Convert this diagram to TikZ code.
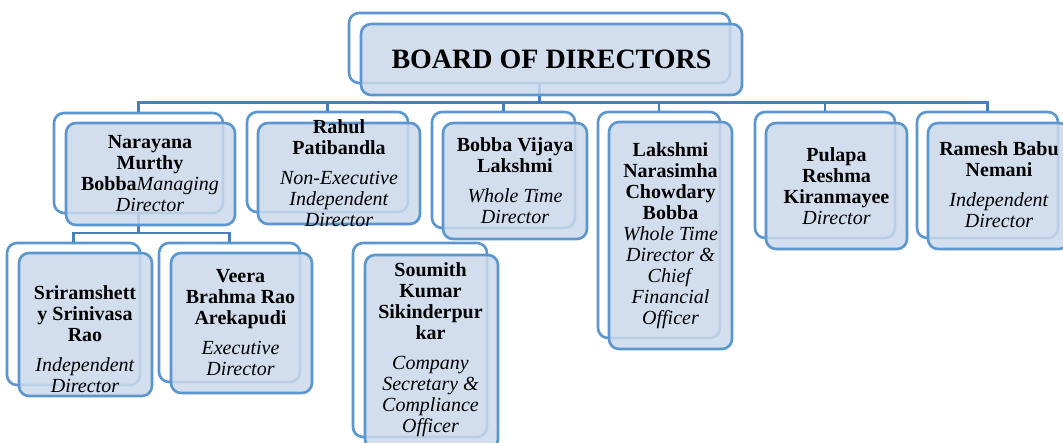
\documentclass[tikz,border=0pt]{standalone}
\usepackage{fontspec}
\setmainfont{Liberation Serif}
\usetikzlibrary{positioning,calc}
\definecolor{boxline}{RGB}{91,150,207}
\definecolor{boxfill}{RGB}{203,217,235}
\definecolor{linkline}{RGB}{74,126,187}

\begin{document}
\begin{tikzpicture}[
    x=1pt, y=-1pt,
    every node/.style={
        font=\fontsize{20}{21}\selectfont,
    },
    backbox/.style={draw=boxline, line width=2.6pt, rounded corners=10pt, fill=white, inner sep=0pt},
    frontbox/.style={draw=boxline, line width=2.6pt, rounded corners=10pt, fill=boxfill, fill opacity=0.85, inner sep=0pt},
    member/.style={align=center, inner sep=0pt},
    conn/.style={draw=linkline, line width=2.3pt},
]
    \useasboundingbox (0,0) rectangle (1063,443);
    % back boxes
    \node[backbox, minimum width=381pt, minimum height=70pt] (board-b) at (539.5,48) {};
    \node[backbox, minimum width=169pt, minimum height=100pt] (nara-b) at (138.5,163) {};
    \node[backbox, minimum width=161pt, minimum height=100pt] (rahul-b) at (327.5,162) {};
    \node[backbox, minimum width=143pt, minimum height=116pt] (vijaya-b) at (503.5,170) {};
    \node[backbox, minimum width=122pt, minimum height=226pt] (lakshmi-b) at (659,225) {};
    \node[backbox, minimum width=140pt, minimum height=126pt] (pulapa-b) at (825,175) {};
    \node[backbox, minimum width=141pt, minimum height=126pt] (ramesh-b) at (987.5,175) {};
    \node[backbox, minimum width=133pt, minimum height=142pt] (srinivasa-b) at (73.5,314) {};
    \node[backbox, minimum width=141pt, minimum height=139pt] (veera-b) at (229.5,312.5) {};
    \node[backbox, minimum width=134pt, minimum height=194pt] (soumith-b) at (420,340) {};
    % connectors
    \coordinate (bus) at (0,102.5);
    \coordinate (subbus) at (0,233);
    \draw[conn] (board-b.south) -- (board-b.south |- bus) -| (nara-b.north);
    \draw[conn] (board-b.south) -- (board-b.south |- bus) -| (rahul-b.north);
    \draw[conn] (board-b.south) -- (board-b.south |- bus) -| (vijaya-b.north);
    \draw[conn] (board-b.south) -- (board-b.south |- bus) -| (lakshmi-b.north);
    \draw[conn] (board-b.south) -- (board-b.south |- bus) -| (pulapa-b.north);
    \draw[conn] (board-b.south) -- (board-b.south |- bus) -| (ramesh-b.north);
    \draw[conn] (nara-b.south) -- (nara-b.south |- subbus) -| (srinivasa-b.north);
    \draw[conn] (nara-b.south) -- (nara-b.south |- subbus) -| (veera-b.north);
    % front boxes
    \node[frontbox, minimum width=381pt, minimum height=71pt] (board) at (551.5,59.5) {};
    \node[frontbox, minimum width=169pt, minimum height=102pt] (nara) at (150.5,174) {};
    \node[frontbox, minimum width=162pt, minimum height=101pt] (rahul) at (339,173.5) {};
    \node[frontbox, minimum width=144pt, minimum height=116pt] (vijaya) at (515,181) {};
    \node[frontbox, minimum width=123pt, minimum height=227pt] (lakshmi) at (670.5,235.5) {};
    \node[frontbox, minimum width=141pt, minimum height=126pt] (pulapa) at (836.5,186) {};
    \node[frontbox, minimum width=141pt, minimum height=126pt] (ramesh) at (998.5,186) {};
    \node[frontbox, minimum width=133pt, minimum height=143pt] (srinivasa) at (85.5,324.5) {};
    \node[frontbox, minimum width=141pt, minimum height=140pt] (veera) at (241.5,323) {};
    \node[frontbox, minimum width=133pt, minimum height=194pt] (soumith) at (431.5,352) {};
    % texts
    \node[member, font=\fontsize{28}{30}\selectfont\bfseries] (board-t) at (551.5,59.5) {BOARD OF DIRECTORS};
    \node[member] (nara-t) at (150,174) {\textbf{Narayana}\\\textbf{Murthy}\\\textbf{Bobba}\textit{Managing}\\\textit{Director}};
    \node[member] (rahul-t) at (339,173) {\textbf{Rahul}\\\textbf{Patibandla}\\[9pt]\textit{Non-Executive}\\\textit{Independent}\\\textit{Director}};
    \node[member] (vijaya-t) at (515,181) {\textbf{Bobba Vijaya}\\\textbf{Lakshmi}\\[9pt]\textit{Whole Time}\\\textit{Director}};
    \node[member] (lakshmi-t) at (670.5,235.5) {\textbf{Lakshmi}\\\textbf{Narasimha}\\\textbf{Chowdary}\\\textbf{Bobba}\\\textit{Whole Time}\\\textit{Director \&}\\\textit{Chief}\\\textit{Financial}\\\textit{Officer}};
    \node[member] (pulapa-t) at (836.5,186.5) {\textbf{Pulapa}\\\textbf{Reshma}\\\textbf{Kiranmayee}\\\textit{Director}};
    \node[member] (ramesh-t) at (999,184.5) {\textbf{Ramesh Babu}\\\textbf{Nemani}\\[9pt]\textit{Independent}\\\textit{Director}};
    \node[member] (srinivasa-t) at (85,339) {\textbf{Sriramshett}\\\textbf{y Srinivasa}\\\textbf{Rao}\\[9pt]\textit{Independent}\\\textit{Director}};
    \node[member] (veera-t) at (240.5,323) {\textbf{Veera}\\\textbf{Brahma Rao}\\\textbf{Arekapudi}\\[9pt]\textit{Executive}\\\textit{Director}};
    \node[member] (soumith-t) at (430.5,350) {\textbf{Soumith}\\\textbf{Kumar}\\\textbf{Sikinderpur}\\\textbf{kar}\\[9pt]\textit{Company}\\\textit{Secretary \&}\\\textit{Compliance}\\\textit{Officer}};
\end{tikzpicture}
\end{document}
